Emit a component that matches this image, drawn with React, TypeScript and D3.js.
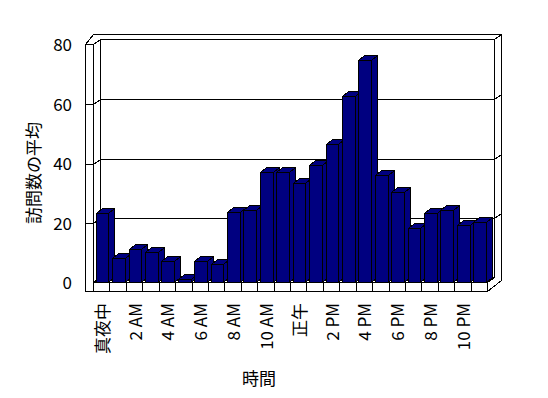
import React from "react";
import * as d3 from "d3";

const categories = [
  "真夜中", "1 AM", "2 AM", "3 AM", "4 AM", "5 AM", "6 AM", "7 AM", "8 AM", "9 AM", "10 AM", "11 AM",
  "正午", "1 PM", "2 PM", "3 PM", "4 PM", "5 PM", "6 PM", "7 PM", "8 PM", "9 PM", "10 PM", "11 PM",
];
const visits = [
  23.4, 8.2, 11.3, 10.3, 7.2, 1.1, 7.2, 6.2, 23.6, 24.4, 37.3, 37.3,
  33.3, 39.4, 46.5, 62.6, 74.8, 36.3, 30.5, 18.4, 23.4, 24.4, 19.4, 20.4,
];
const yTicks = [0, 20, 40, 60, 80];
const yTitle = "訪問数の平均";
const xTitle = "時間";

const W = 548;
const H = 398;
const FONT = "'Noto Sans CJK JP', 'Noto Sans', sans-serif";
const NAVY = "#000080";

export default function App() {
  const x = d3.scaleBand<string>().domain(categories).range([93, 487]).padding(0);
  const y = d3.scaleLinear().domain([0, 80]).range([282.5, 44.5]);
  const dx = 7, dy = -5; // wall depth
  const bdx = 6, bdy = -5; // bar depth
  const bw = x.bandwidth();
  const line = d3.line<[number, number]>();
  const p = (pts: [number, number][]) => line(pts) + "Z";

  const floorBottom = 291.5;
  const left = 85.5, wallIn = 93.5, backL = 100.5, backR = 494.5, outerR = 501.5;
  const topFront = 44.5, topBack = 39.5, topOuter = 34.5;

  const bars = categories.map((c, i) => {
    const x0 = Math.round((x(c) as number) + bw * 0.165) + 0.5;
    const x1 = Math.round((x(c) as number) + bw * 0.94) + 0.5;
    const yb = y(0);
    const yt = Math.round(y(visits[i])) + 0.5;
    return (
      <g key={c} fill={NAVY} stroke="#000" strokeWidth={1}>
        <path d={p([[x1, yt], [x1 + bdx, yt + bdy], [x1 + bdx, yb + bdy], [x1, yb]])} />
        <path d={p([[x0, yt], [x0 + bdx, yt + bdy], [x1 + bdx, yt + bdy], [x1, yt]])} />
        <rect x={x0} y={yt} width={x1 - x0} height={yb - yt} />
      </g>
    );
  });

  return (
    <svg width={W} height={H} style={{ position: "absolute", left: 0, top: 0, background: "#fff" }}
      shapeRendering="crispEdges">
      <rect x={0} y={0} width={W} height={H} fill="#fff" />
      <g fill="none" stroke="#000" strokeWidth={1}>
        {/* outer silhouette top */}
        <path d={line([[left, topFront], [wallIn, topOuter], [outerR, topOuter]]) as string} />
        {/* back wall inner top */}
        <path d={line([[wallIn, topFront], [backL, topBack], [backR, topBack]]) as string} />
        <path d={line([[backR, topBack], [outerR, topOuter]]) as string} />
        {/* left wall front face */}
        <rect x={left} y={topFront} width={wallIn - left} height={floorBottom - topFront} />
        {/* back wall left & right */}
        <path d={line([[backL, topBack], [backL, y(0) + dy]]) as string} />
        <path d={line([[backR, topBack], [backR, y(0) + dy]]) as string} />
        <path d={line([[outerR, topOuter], [outerR, floorBottom - 11]]) as string} />
        {/* gridlines */}
        {yTicks.slice(1, 4).map((t) => (
          <g key={t}>
            <path d={line([[left, Math.round(y(t)) + 0.5], [wallIn, Math.round(y(t)) + 0.5], [backL, Math.round(y(t) + dy) + 0.5], [backR, Math.round(y(t) + dy) + 0.5]]) as string} />
            <path d={line([[backR, Math.round(y(t) + dy) + 0.5], [outerR, Math.round(y(t) + dy * 2) + 0.5]]) as string} />
          </g>
        ))}
        {/* floor */}
        <path d={p([[wallIn, y(0)], [backL, y(0) + dy], [backR, y(0) + dy], [487.5, y(0)]])} />
        <path d={line([[left, floorBottom], [487.5, floorBottom], [487.5, y(0)]]) as string} />
        <path d={line([[487.5, floorBottom], [outerR, floorBottom - 11]]) as string} />
        {categories.map((c) => (
          <path key={c} d={line([[Math.round(x(c) as number) + 0.5, y(0)], [Math.round(x(c) as number) + 0.5, floorBottom]]) as string} />
        ))}
      </g>
      {bars}
      <g fontFamily={FONT} fontSize={17} fill="#000">
        {yTicks.map((t) => (
          <text key={t} x={72} y={y(t) - 1} textAnchor="end" dominantBaseline="central">{t}</text>
        ))}
        {categories.map((c, i) =>
          i % 2 === 0 ? (
            <text key={c} transform={`translate(${(x(c) as number) + bw / 2},303) rotate(-90)`}
              textAnchor="end" dominantBaseline="central">{c}</text>
          ) : null
        )}
        <text x={259} y={377} textAnchor="middle" dominantBaseline="central">{xTitle}</text>
        <text transform="translate(32,173) rotate(-90)" textAnchor="middle" dominantBaseline="central">{yTitle}</text>
      </g>
    </svg>
  );
}
